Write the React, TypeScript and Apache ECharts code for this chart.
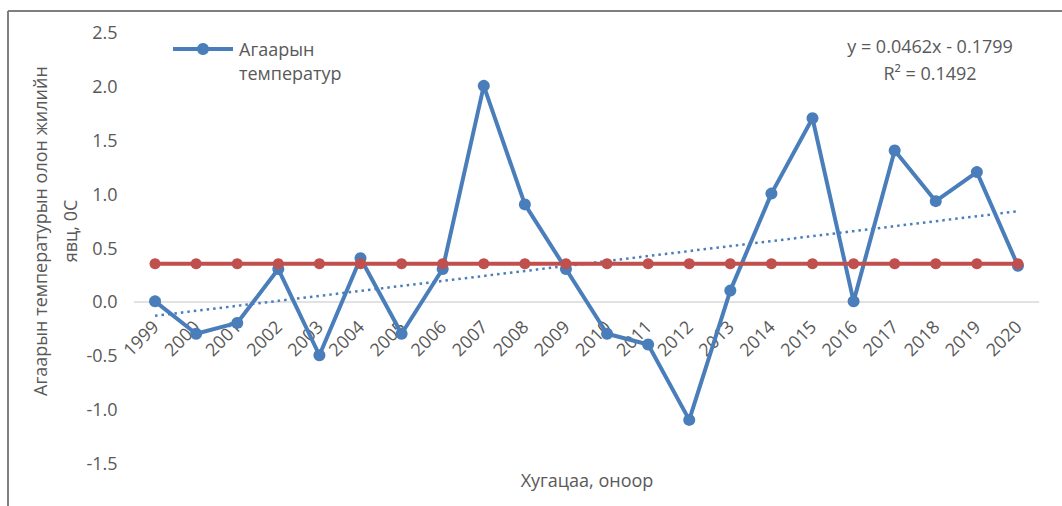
import React, { useEffect, useRef } from "react";
import * as echarts from "echarts";

// Years on the category axis
const years: string[] = [
  "1999", "2000", "2001", "2002", "2003", "2004", "2005", "2006", "2007", "2008", "2009",
  "2010", "2011", "2012", "2013", "2014", "2015", "2016", "2017", "2018", "2019", "2020",
];

// Annual air temperature anomaly, °C
const airTemp: number[] = [
  0.0, -0.3, -0.2, 0.3, -0.5, 0.4, -0.3, 0.3, 2.0, 0.9, 0.3,
  -0.3, -0.4, -1.1, 0.1, 1.0, 1.7, 0.0, 1.4, 0.93, 1.2, 0.33,
];

// Long-term mean level (red line)
const NORM = 0.35;

// Linear trend y = SLOPE * x + INTERCEPT, x = 1..n
const SLOPE = 0.0462;
const INTERCEPT = -0.1799;
const R2 = 0.1492;

const yTicks = { min: -1.5, max: 2.5, interval: 0.5 };

const BLUE = "#4a7ebb";
const RED = "#c0504d";
const TEXT = "#595959";
const FONT = "'Open Sans', sans-serif";

const GRID_TOP = 32;
const GRID_BOTTOM = 43;
const HEIGHT = 506;

export default function App() {
  const ref = useRef<HTMLDivElement>(null);

  useEffect(() => {
    if (!ref.current) return;
    const chart = echarts.init(ref.current, undefined, { renderer: "svg" });

    const normLine = years.map(() => NORM);
    const trend = years.map((_, i) => +(SLOPE * (i + 1) + INTERCEPT).toFixed(4));

    // distance from the grid bottom up to the zero line, to place the category axis there
    const plotH = HEIGHT - GRID_TOP - GRID_BOTTOM;
    const zeroUp = (plotH * (0 - yTicks.min)) / (yTicks.max - yTicks.min);

    chart.setOption({
      animation: false,
      backgroundColor: "#ffffff",
      textStyle: { fontFamily: FONT },
      grid: {
        left: 134.5,
        right: 23.5,
        top: GRID_TOP,
        bottom: GRID_BOTTOM,
        containLabel: false,
        outerBoundsMode: "none",
      },
      xAxis: {
        type: "category",
        data: years,
        boundaryGap: true,
        position: "bottom",
        offset: -zeroUp,
        axisLine: { onZero: false, lineStyle: { color: "#d9d9d9", width: 1.5 } },
        axisTick: { show: false },
        axisLabel: {
          rotate: 45,
          margin: 22,
          color: TEXT,
          fontSize: 18,
          fontFamily: FONT,
          interval: 0,
        },
        splitLine: { show: false },
        z: 1,
      },
      yAxis: {
        type: "value",
        min: yTicks.min,
        max: yTicks.max,
        interval: yTicks.interval,
        axisLine: { show: false },
        axisTick: { show: false },
        splitLine: { show: false },
        axisLabel: {
          color: TEXT,
          fontSize: 18,
          fontFamily: FONT,
          margin: 17,
          formatter: (v: number) => v.toFixed(1),
        },
      },
      series: [
        {
          name: "Агаарын температур",
          type: "line",
          data: airTemp,
          symbol: "circle",
          symbolSize: 12,
          lineStyle: { color: BLUE, width: 4 },
          itemStyle: { color: BLUE },
          z: 3,
        },
        {
          name: "Дундаж",
          type: "line",
          data: normLine,
          symbol: "circle",
          symbolSize: 11,
          lineStyle: { color: RED, width: 4 },
          itemStyle: { color: RED },
          z: 4,
        },
        {
          name: "Шугаман (Агаарын температур)",
          type: "line",
          data: trend,
          symbol: "none",
          lineStyle: { color: BLUE, width: 2.5, type: [2.5, 4] },
          z: 2,
        },
      ],
      graphic: [
        // chart frame
        { type: "line", shape: { x1: 8, y1: 11, x2: 1062, y2: 11 }, style: { stroke: "#7f7f7f", lineWidth: 2 } },
        { type: "line", shape: { x1: 8, y1: 11, x2: 8, y2: 506 }, style: { stroke: "#7f7f7f", lineWidth: 2 } },
        // legend
        { type: "line", shape: { x1: 173, y1: 49, x2: 233, y2: 49 }, style: { stroke: BLUE, lineWidth: 4 } },
        { type: "circle", shape: { cx: 203, cy: 49, r: 6 }, style: { fill: BLUE } },
        {
          type: "text",
          x: 239,
          y: 61,
          style: {
            text: "Агаарын\nтемператур",
            fill: TEXT,
            fontSize: 18,
            fontFamily: FONT,
            lineHeight: 24,
            align: "left",
            verticalAlign: "middle",
          },
        },
        // trend equation
        {
          type: "text",
          x: 930,
          y: 59,
          style: {
            text: `y = ${SLOPE}x - ${Math.abs(INTERCEPT)}\nR² = ${R2}`,
            fill: TEXT,
            fontSize: 18,
            fontFamily: FONT,
            lineHeight: 27,
            align: "center",
            verticalAlign: "middle",
          },
        },
        // y axis title
        {
          type: "text",
          x: 55,
          y: 231,
          rotation: Math.PI / 2,
          style: {
            text: "Агаарын температурын олон жилийн\nявц, 0С",
            fill: TEXT,
            fontSize: 18,
            fontFamily: FONT,
            lineHeight: 30,
            align: "center",
            verticalAlign: "middle",
          },
        },
        // x axis title
        {
          type: "text",
          x: 587,
          y: 480,
          style: {
            text: "Хугацаа, оноор",
            fill: TEXT,
            fontSize: 18,
            fontFamily: FONT,
            align: "center",
            verticalAlign: "middle",
          },
        },
      ],
    });

    return () => chart.dispose();
  }, []);

  return (
    <div
      ref={ref}
      style={{ position: "fixed", left: 0, top: 0, width: 1062, height: HEIGHT, background: "#fff" }}
    />
  );
}
